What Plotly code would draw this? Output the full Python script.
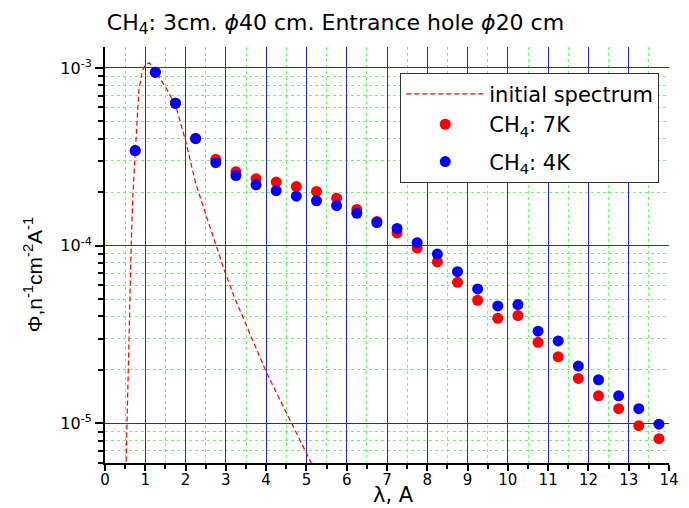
import plotly.graph_objects as go

# ---- data ----
wavelength = [0.75, 1.25, 1.75, 2.25, 2.75, 3.25, 3.75, 4.25, 4.75, 5.25, 5.75, 6.25, 6.75,
              7.25, 7.75, 8.25, 8.75, 9.25, 9.75, 10.25, 10.75, 11.25, 11.75, 12.25, 12.75,
              13.25, 13.75]
flux_7k = [3.43e-4, 9.46e-4, 6.33e-4, 4.02e-4, 3.06e-4, 2.61e-4, 2.38e-4, 2.28e-4, 2.15e-4,
           2.02e-4, 1.85e-4, 1.60e-4, 1.37e-4, 1.18e-4, 9.7e-5, 8.1e-5, 6.22e-5, 4.93e-5,
           3.9e-5, 4.04e-5, 2.86e-5, 2.37e-5, 1.79e-5, 1.43e-5, 1.21e-5, 9.7e-6, 8.2e-6]
flux_4k = [3.43e-4, 9.46e-4, 6.33e-4, 4.0e-4, 2.93e-4, 2.48e-4, 2.20e-4, 2.04e-4, 1.90e-4,
           1.79e-4, 1.68e-4, 1.52e-4, 1.35e-4, 1.25e-4, 1.04e-4, 8.97e-5, 7.14e-5, 5.71e-5,
           4.58e-5, 4.66e-5, 3.30e-5, 2.91e-5, 2.10e-5, 1.76e-5, 1.43e-5, 1.21e-5, 9.9e-6]

init_x = [0.52, 0.545, 0.575, 0.61, 0.65, 0.69, 0.75, 0.79, 0.84, 0.93, 1.0, 1.1, 1.25,
          1.5, 1.75, 2.0, 2.25, 2.5, 2.75, 2.96, 3.2, 3.45, 4.0, 4.5, 5.0, 5.2]
init_y = [5.5e-6, 1e-5, 2e-5, 4e-5, 1e-4, 1.9e-4, 3.4e-4, 5.3e-4, 7.5e-4, 9.7e-4, 1.04e-3,
          1.07e-3, 9.6e-4, 7.8e-4, 6.2e-4, 3.9e-4, 2.25e-4, 1.5e-4, 1.0e-4, 7.3e-5, 5.2e-5,
          3.8e-5, 1.95e-5, 1.15e-5, 6.9e-6, 5.5e-6]

x_minor = [0.5, 1.5, 2.5, 3.5, 4.5, 5.5, 6.5, 7.5, 8.5, 9.5, 10.5, 11.5, 12.5, 13.5]
y_major = [1e-5, 1e-4, 1e-3]
y_major_text = ["10<sup>-5</sup>", "10<sup>-4</sup>", "10<sup>-3</sup>"]
y_minor = [m * 10.0 ** e for e in (-6, -5, -4, -3) for m in (2, 3, 4, 5, 6, 7, 8, 9)]

FONT = "DejaVu Sans"
ARIAL = "Liberation Sans"
GREEN = "#66FF66"
BLUE = "#2424FF"

fig = go.Figure()
fig.add_trace(go.Scatter(x=init_x, y=init_y, mode="lines", name="initial spectrum",
                         legendgroup="a",
                         line=dict(color="#FF0000", width=1.2, dash="5px,3px")))
fig.add_trace(go.Scatter(x=wavelength, y=flux_7k, mode="markers", name="CH<sub>4</sub>: 7K",
                         legendgroup="a",
                         marker=dict(color="#FF0000", size=11, line=dict(width=0))))
fig.add_trace(go.Scatter(x=wavelength, y=flux_4k, mode="markers", name="CH<sub>4</sub>: 4K",
                         legendgroup="b",
                         marker=dict(color="#0000FF", size=11, line=dict(width=0))))

fig.update_layout(
    width=689, height=508,
    margin=dict(l=105, r=10, t=47, b=45),
    paper_bgcolor="white", plot_bgcolor="white",
    font=dict(family=FONT, color="black", size=15),
    title=dict(text="CH<sub>4</sub>: 3cm. <i>ϕ</i>40 cm. Entrance hole <i>ϕ</i>20 cm",
               x=335.5 / 689, xref="container", xanchor="center",
               y=1 - 22 / 508, yref="container", yanchor="middle",
               font=dict(family=FONT, size=22, color="black")),
    legend=dict(x=0.5235, y=0.938, xanchor="left", yanchor="top",
                bgcolor="white", bordercolor="#333333", borderwidth=1,
                font=dict(family=FONT, size=21, color="black"),
                itemwidth=78, tracegroupgap=7),
    showlegend=True,
)

fig.update_xaxes(
    range=[0, 14], dtick=1, tick0=0,
    showline=True, linecolor="black", linewidth=2,
    ticks="outside", ticklen=6, tickwidth=1.5, tickcolor="black",
    tickfont=dict(family=FONT, size=15), ticklabelstandoff=-4,
    showgrid=True, gridcolor=BLUE, gridwidth=1, zeroline=False,
    minor=dict(tickmode="array", tickvals=x_minor, ticks="outside", ticklen=4,
               tickwidth=1.5, tickcolor="black", showgrid=True, gridcolor=GREEN,
               griddash="dot", gridwidth=1),
)

fig.update_yaxes(
    type="log", range=[-5.223, -2.882],
    tickmode="array", tickvals=y_major, ticktext=y_major_text,
    showline=True, linecolor="black", linewidth=2,
    ticks="outside", ticklen=8, tickwidth=1.5, tickcolor="black",
    tickfont=dict(family=FONT, size=16),
    showgrid=True, gridcolor=BLUE, gridwidth=1, zeroline=False,
    minor=dict(tickmode="array", tickvals=y_minor, ticks="outside", ticklen=5,
               tickwidth=1.5, tickcolor="black", showgrid=True, gridcolor=GREEN,
               griddash="dot", gridwidth=1),
)

fig.add_annotation(text="Φ,n<sup>-1</sup>cm<sup>-2</sup>A<sup>-1</sup>",
                   xref="paper", yref="paper", x=-0.127, y=0.452,
                   xanchor="center", yanchor="middle", textangle=-90, showarrow=False,
                   font=dict(family=ARIAL, size=21, color="black"))
fig.add_annotation(text="λ, A",
                   xref="paper", yref="paper", x=(399 - 105) / 575, y=-32 / 416,
                   xanchor="center", yanchor="middle", showarrow=False,
                   bgcolor="rgba(0,0,0,0)", borderpad=0,
                   font=dict(family=FONT, size=21, color="black"))

fig.write_html("out.html")
